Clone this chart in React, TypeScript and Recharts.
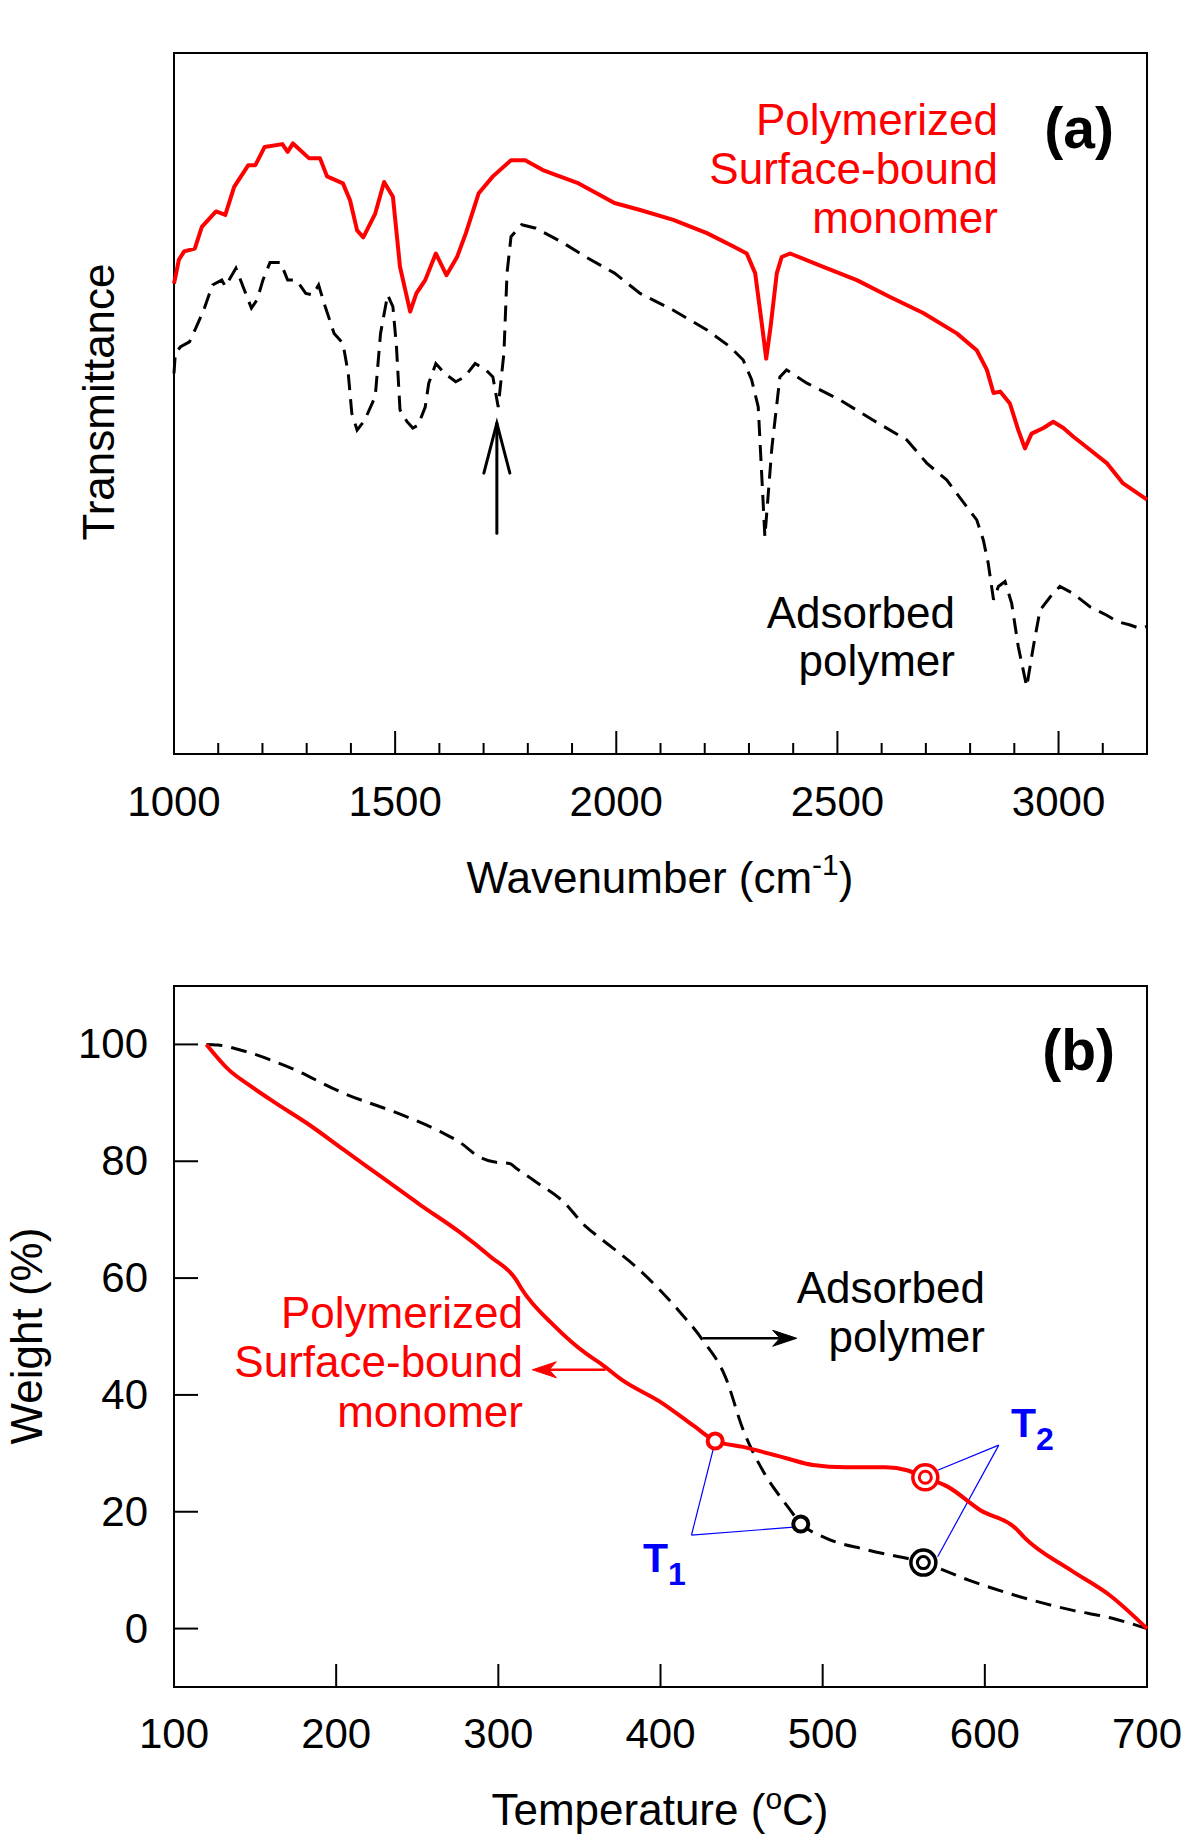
import React from "react";
import {
  ComposedChart,
  Line,
  Scatter,
  XAxis,
  YAxis,
  ReferenceArea,
  ReferenceLine,
} from "recharts";

const FONT = "'Liberation Sans', Arial, sans-serif";
const RED = "#ff0000";
const BLUE = "#0000ff";
const INK = "#000000";

// ---- (a) FTIR: [wavenumber cm-1, transmittance (arb.)]
const ftirPolymerized: [number, number][] = [
  [1000, 67.1], [1011, 70.5], [1023, 71.7], [1047, 72.1], [1063, 75.2], [1095, 77.4],
  [1116, 76.9], [1136, 80.9], [1168, 84.0], [1184, 84.0], [1205, 86.6], [1245, 87.0],
  [1257, 85.9], [1269, 87.1], [1305, 85.0], [1330, 85.0], [1346, 82.4], [1382, 81.4],
  [1398, 79.0], [1414, 74.7], [1428, 73.7], [1455, 77.1], [1475, 81.6], [1495, 79.5],
  [1511, 69.5], [1534, 63.1], [1548, 65.7], [1568, 67.6], [1592, 71.4], [1616, 68.3],
  [1640, 70.9], [1660, 74.3], [1689, 80.0], [1721, 82.4], [1762, 84.7], [1794, 84.7],
  [1834, 83.3], [1915, 81.4], [1996, 78.6], [2054, 77.6], [2129, 76.2], [2205, 74.3],
  [2265, 72.4], [2295, 71.4], [2314, 68.6], [2329, 61.4], [2339, 56.4], [2349, 61.0],
  [2363, 68.6], [2374, 70.9], [2393, 71.4], [2468, 69.5], [2544, 67.6], [2619, 65.2],
  [2694, 62.9], [2770, 60.0], [2815, 57.6], [2838, 54.8], [2853, 51.5], [2868, 51.7],
  [2890, 50.0], [2909, 46.2], [2924, 43.6], [2939, 45.7], [2966, 46.5], [2988, 47.4],
  [3011, 46.5], [3033, 45.3], [3071, 43.4], [3109, 41.5], [3146, 38.6], [3200, 36.3],
];

const ftirAdsorbed: [number, number][] = [
  [1000, 54.3], [1003, 57.2], [1015, 58.1], [1035, 58.8], [1051, 61.0], [1067, 63.3],
  [1087, 66.9], [1108, 67.6], [1116, 66.7], [1140, 69.3], [1156, 66.7], [1175, 63.6],
  [1188, 64.8], [1201, 67.6], [1217, 70.1], [1241, 70.1], [1257, 67.6], [1277, 67.6],
  [1298, 65.7], [1314, 65.5], [1327, 66.9], [1342, 63.8], [1362, 60.0], [1382, 58.6],
  [1394, 54.3], [1402, 48.6], [1414, 46.2], [1431, 47.6], [1455, 51.0], [1467, 60.0],
  [1483, 65.5], [1495, 63.8], [1503, 58.1], [1511, 49.1], [1527, 47.4], [1540, 46.5],
  [1552, 46.9], [1568, 49.5], [1576, 52.9], [1592, 55.7], [1612, 54.3], [1637, 53.1],
  [1657, 53.8], [1681, 55.7], [1705, 54.8], [1721, 53.8], [1733, 49.5], [1746, 57.2],
  [1753, 68.6], [1762, 73.8], [1786, 75.5], [1818, 75.0], [1875, 73.1], [1931, 70.9],
  [1996, 68.6], [2054, 65.7], [2129, 63.3], [2205, 60.5], [2257, 58.1], [2287, 56.2],
  [2306, 53.4], [2321, 49.5], [2336, 31.0], [2352, 43.8], [2370, 53.8], [2385, 54.8],
  [2431, 52.9], [2506, 50.5], [2581, 47.6], [2657, 44.8], [2702, 41.5], [2747, 39.1],
  [2792, 35.3], [2815, 33.4], [2830, 30.5], [2841, 27.2], [2853, 22.0], [2864, 23.9],
  [2879, 24.6], [2894, 21.5], [2909, 15.3], [2928, 9.6], [2943, 15.3], [2958, 20.5],
  [2981, 22.4], [3003, 23.9], [3033, 22.9], [3071, 21.0], [3109, 19.8], [3132, 18.9],
  [3162, 18.4], [3184, 17.9], [3200, 18.2],
];

const wavenumberTicks = [
  1000, 1100, 1200, 1300, 1400, 1500, 1600, 1700, 1800, 1900, 2000, 2100,
  2200, 2300, 2400, 2500, 2600, 2700, 2800, 2900, 3000, 3100, 3200,
];
const wavenumberLabels = [1000, 1500, 2000, 2500, 3000];
const carbonylArrow: [number, number][] = [[1730, 31.5], [1730, 47.2]];

// ---- (b) TGA: [temperature C, weight %]
const tgaPolymerized: [number, number][] = [
  [120, 100], [134, 95.6], [146, 93.1], [163, 89.9], [182, 86.5], [205, 81.9],
  [229, 77.1], [252, 72.5], [276, 67.9], [295, 63.7], [311, 59.7], [314, 58.3],
  [335, 51.7], [354, 47.1], [363, 45.4], [376, 42.6], [401, 38.6], [421, 34.6],
  [434, 32.1], [451, 31.1], [477, 29.2], [494, 28.0], [514, 27.6], [539, 27.6],
  [552, 27.1], [563, 25.9], [577, 24.3], [597, 20.3], [620, 16.9], [624, 15.7],
  [653, 10.0], [678, 5.5], [700, 0],
];

const tgaAdsorbed: [number, number][] = [
  [120, 100], [127, 99.9], [144, 98.8], [170, 96.2], [205, 91.6], [241, 87.9],
  [264, 85.1], [276, 83.3], [288, 80.8], [297, 79.9], [307, 79.6], [311, 78.8],
  [323, 76.5], [340, 73.1], [354, 68.8], [363, 66.8], [387, 61.4], [411, 54.5],
  [426, 49.4], [440, 43.1], [451, 34.0], [464, 26.6], [477, 21.4], [487, 17.9],
  [502, 15.5], [527, 13.5], [562, 11.3], [590, 8.3], [615, 6.0], [653, 3.2],
  [678, 1.8], [700, 0],
];

const temperatureTicks = [100, 200, 300, 400, 500, 600, 700];
const weightTicks = [0, 20, 40, 60, 80, 100];

const t1Red: [number, number] = [433.7, 32.1];
const t1Black: [number, number] = [486.5, 17.9];
const t2Red: [number, number] = [563.3, 25.9];
const t2Black: [number, number] = [562.1, 11.3];

const t1Hub: [number, number] = [419.1, 16.0];
const t1Ends: [number, number][] = [[432.4, 30.6], [484.0, 17.4]];
const t2Hub: [number, number] = [608.6, 31.4];
const t2Ends: [number, number][] = [[570.9, 27.1], [570.9, 12.3]];

const redArrowB: [number, number][] = [[366, 44.3], [321, 44.3]];
const blackArrowB: [number, number][] = [[426, 49.7], [484, 49.7]];

const toXY = (pts: [number, number][]) => pts.map(([x, y]) => ({ x, y }));
const seg = (a: [number, number], b: [number, number]) => [
  { x: a[0], y: a[1] },
  { x: b[0], y: b[1] },
];

// arrow drawn in pixel space from the two scaled end points
const arrowShape =
  (color: string, width: number, open: boolean) =>
  (props: any) => {
    const { x1, y1, x2, y2 } = props;
    const ang = Math.atan2(y2 - y1, x2 - x1);
    const len = open ? 50 : 24;
    const half = open ? 13 : 8;
    const bx = x2 - Math.cos(ang) * len;
    const by = y2 - Math.sin(ang) * len;
    const nx = -Math.sin(ang) * half;
    const ny = Math.cos(ang) * half;
    if (open) {
      return (
        <g>
          <line x1={x1} y1={y1} x2={x2} y2={y2} stroke={color} strokeWidth={width} strokeLinecap="round" />
          <polyline
            points={`${bx + nx},${by + ny} ${x2},${y2} ${bx - nx},${by - ny}`}
            fill="none"
            stroke={color}
            strokeWidth={width}
            strokeLinecap="round"
          />
        </g>
      );
    }
    const notchX = x2 - Math.cos(ang) * (len * 0.7);
    const notchY = y2 - Math.sin(ang) * (len * 0.7);
    return (
      <g>
        <line x1={x1} y1={y1} x2={notchX} y2={notchY} stroke={color} strokeWidth={width} />
        <polygon
          points={`${x2},${y2} ${bx + nx},${by + ny} ${notchX},${notchY} ${bx - nx},${by - ny}`}
          fill={color}
          stroke={color}
          strokeWidth={1}
          strokeLinejoin="round"
        />
      </g>
    );
  };

const ringShape = (color: string, double: boolean) => (props: any) => {
  const { cx, cy } = props;
  if (double) {
    return (
      <g>
        <circle cx={cx} cy={cy} r={12.5} fill="#fff" stroke={color} strokeWidth={3.5} />
        <circle cx={cx} cy={cy} r={6} fill="#fff" stroke={color} strokeWidth={3} />
      </g>
    );
  }
  return <circle cx={cx} cy={cy} r={7.5} fill="#fff" stroke={color} strokeWidth={4} />;
};

const tickStyle = { fontFamily: FONT, fontSize: 42 };
const textStyle = { fontFamily: FONT, fontSize: 44 };

function WaveTick(props: any) {
  const { x, y, payload } = props;
  const major = wavenumberLabels.includes(payload.value);
  return (
    <g>
      <line x1={x} y1={y} x2={x} y2={y - (major ? 23 : 11)} stroke={INK} strokeWidth={2} />
      {major && (
        <text x={x} y={y + 62} textAnchor="middle" fill={INK} {...tickStyle}>
          {payload.value}
        </text>
      )}
    </g>
  );
}

function TempTick(props: any) {
  const { x, y, payload } = props;
  return (
    <g>
      <line x1={x} y1={y} x2={x} y2={y - 23} stroke={INK} strokeWidth={2} />
      <text x={x} y={y + 61} textAnchor="middle" fill={INK} {...tickStyle}>
        {payload.value}
      </text>
    </g>
  );
}

function WeightTick(props: any) {
  const { x, y, payload } = props;
  return (
    <g>
      <line x1={x} y1={y} x2={x + 24} y2={y} stroke={INK} strokeWidth={2} />
      <text x={x - 26} y={y + 14} textAnchor="end" fill={INK} {...tickStyle}>
        {payload.value}
      </text>
    </g>
  );
}

function FtirPanel() {
  return (
    <ComposedChart width={1200} height={920} margin={{ top: 53, right: 53, bottom: 106, left: 174 }}>
      <XAxis
        dataKey="x"
        type="number"
        domain={[1000, 3200]}
        ticks={wavenumberTicks}
        interval={0}
        tickSize={0}
        tickMargin={0}
        axisLine={false}
        tickLine={false}
        height={60}
        tick={WaveTick}
      />
      <YAxis dataKey="y" type="number" domain={[0, 100]} hide />
      <ReferenceArea x1={1000} x2={3200} y1={0} y2={100} fill="none" stroke={INK} strokeWidth={2} />

      <Line
        data={toXY(ftirAdsorbed)}
        dataKey="y"
        type="linear"
        stroke={INK}
        strokeWidth={3}
        strokeDasharray="16 9"
        dot={false}
        isAnimationActive={false}
      />
      <Line
        data={toXY(ftirPolymerized)}
        dataKey="y"
        type="linear"
        stroke={RED}
        strokeWidth={4}
        strokeLinejoin="round"
        dot={false}
        isAnimationActive={false}
      />

      <ReferenceLine
        segment={seg(carbonylArrow[0], carbonylArrow[1])}
        shape={arrowShape(INK, 3, true)}
      />

      <g fill={RED} {...textStyle} textAnchor="end">
        <text x={998} y={135}>Polymerized</text>
        <text x={998} y={184}>Surface-bound</text>
        <text x={998} y={233}>monomer</text>
      </g>
      <g fill={INK} {...textStyle} textAnchor="end">
        <text x={955} y={628}>Adsorbed</text>
        <text x={955} y={676}>polymer</text>
      </g>
      <text x={1114} y={148} textAnchor="end" fontFamily={FONT} fontSize={57} fontWeight="bold" fill={INK}>
        (a)
      </text>

      <text x={660} y={893} textAnchor="middle" fill={INK} {...textStyle}>
        Wavenumber (cm<tspan fontSize={30} dy={-18}>-1</tspan>
        <tspan dy={18}>)</tspan>
      </text>
      <text transform="rotate(-90)" x={-402} y={114} textAnchor="middle" fill={INK} {...textStyle}>
        Transmittance
      </text>
    </ComposedChart>
  );
}

function TgaPanel() {
  return (
    <ComposedChart width={1200} height={921} margin={{ top: 66, right: 53, bottom: 94, left: 54 }}>
      <XAxis
        dataKey="x"
        type="number"
        domain={[100, 700]}
        ticks={temperatureTicks}
        interval={0}
        tickSize={0}
        tickMargin={0}
        axisLine={false}
        tickLine={false}
        height={60}
        tick={TempTick}
      />
      <YAxis
        dataKey="y"
        type="number"
        domain={[-10, 110]}
        ticks={weightTicks}
        interval={0}
        tickSize={0}
        tickMargin={0}
        axisLine={false}
        tickLine={false}
        width={120}
        tick={WeightTick}
      />
      <ReferenceArea x1={100} x2={700} y1={-10} y2={110} fill="none" stroke={INK} strokeWidth={2} />

      {[t1Ends[0], t1Ends[1]].map((e, i) => (
        <ReferenceLine key={`t1-${i}`} segment={seg(t1Hub, e)} stroke={BLUE} strokeWidth={1.2} />
      ))}
      {[t2Ends[0], t2Ends[1]].map((e, i) => (
        <ReferenceLine key={`t2-${i}`} segment={seg(t2Hub, e)} stroke={BLUE} strokeWidth={1.2} />
      ))}

      <Line
        data={toXY(tgaAdsorbed)}
        dataKey="y"
        type="monotone"
        stroke={INK}
        strokeWidth={3}
        strokeDasharray="16 9"
        dot={false}
        isAnimationActive={false}
      />
      <Line
        data={toXY(tgaPolymerized)}
        dataKey="y"
        type="monotone"
        stroke={RED}
        strokeWidth={4}
        dot={false}
        isAnimationActive={false}
      />

      <ReferenceLine segment={seg(redArrowB[0], redArrowB[1])} shape={arrowShape(RED, 2.5, false)} />
      <ReferenceLine segment={seg(blackArrowB[0], blackArrowB[1])} shape={arrowShape(INK, 2.5, false)} />

      <Scatter data={toXY([t1Red])} dataKey="y" shape={ringShape(RED, false)} isAnimationActive={false} />
      <Scatter data={toXY([t1Black])} dataKey="y" shape={ringShape(INK, false)} isAnimationActive={false} />
      <Scatter data={toXY([t2Red])} dataKey="y" shape={ringShape(RED, true)} isAnimationActive={false} />
      <Scatter data={toXY([t2Black])} dataKey="y" shape={ringShape(INK, true)} isAnimationActive={false} />

      <text x={1115} y={150} textAnchor="end" fontFamily={FONT} fontSize={57} fontWeight="bold" fill={INK}>
        (b)
      </text>
      <g fill={INK} {...textStyle} textAnchor="end">
        <text x={985} y={383}>Adsorbed</text>
        <text x={985} y={432}>polymer</text>
      </g>
      <g fill={RED} {...textStyle} textAnchor="end">
        <text x={523} y={408}>Polymerized</text>
        <text x={523} y={457}>Surface-bound</text>
        <text x={523} y={507}>monomer</text>
      </g>
      <g fill={BLUE} fontFamily={FONT} fontWeight="bold" fontSize={41}>
        <text x={643} y={652}>
          T<tspan fontSize={32} dy={13}>1</tspan>
        </text>
        <text x={1011} y={517}>
          T<tspan fontSize={32} dy={13}>2</tspan>
        </text>
      </g>

      <text x={660} y={905} textAnchor="middle" fill={INK} {...textStyle}>
        Temperature (<tspan fontSize={30} dy={-16}>o</tspan>
        <tspan dy={16}>C)</tspan>
      </text>
      <text transform="rotate(-90)" x={-416} y={42} textAnchor="middle" fill={INK} {...textStyle}>
        Weight (%)
      </text>
    </ComposedChart>
  );
}

export default function App() {
  return (
    <div style={{ position: "absolute", left: 0, top: 0, width: 1200, height: 1841, background: "#fff" }}>
      <div style={{ position: "absolute", left: 0, top: 0 }}>
        <FtirPanel />
      </div>
      <div style={{ position: "absolute", left: 0, top: 920 }}>
        <TgaPanel />
      </div>
    </div>
  );
}
